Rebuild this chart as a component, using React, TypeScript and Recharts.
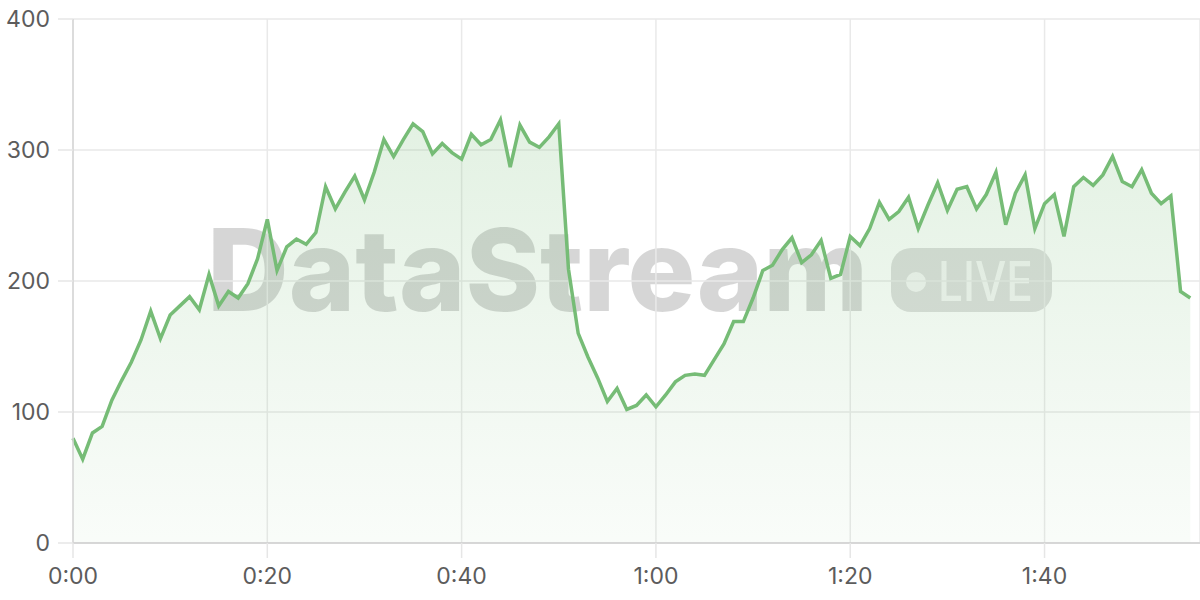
import { Area, AreaChart, CartesianGrid, XAxis, YAxis } from "recharts";

// one reading per second, 0:00 .. 1:55
const values = [
  80, 64, 84, 89, 109, 124, 138, 155, 177, 156,
  174, 181, 188, 178, 205, 181, 192, 187, 198, 217,
  247, 208, 226, 232, 228, 237, 272, 255, 268, 280,
  262, 283, 308, 295, 308, 320, 314, 297, 305, 298,
  293, 312, 304, 308, 323, 287, 319, 306, 302, 310,
  320, 209, 160, 142, 126, 108, 118, 102, 105, 113,
  104, 113, 123, 128, 129, 128, 140, 152, 169, 169,
  187, 208, 212, 224, 233, 214, 220, 231, 202, 205,
  234, 227, 240, 260, 247, 253, 264, 240, 258, 275,
  254, 270, 272, 255, 266, 283, 243, 267, 281, 240,
  259, 266, 234, 272, 279, 273, 281, 295, 276, 272,
  285, 267, 259, 265, 192, 187
];
const seconds = values.map((_, i) => i);
const xTicks = [0, 20, 40, 60, 80, 100];
const yTicks = [0, 100, 200, 300, 400];

const data = seconds.map((t, i) => ({ t, rate: values[i] }));

const fmtTime = (s: number) => `${Math.floor(s / 60)}:${String(s % 60).padStart(2, "0")}`;

const tickStyle = { fontSize: 23, fill: "#5c5c5c", fontFamily: "Inter, sans-serif" };
const green = "#76bc76";

function Watermark() {
  return (
    <svg
      width={1200}
      height={600}
      style={{ position: "absolute", left: 0, top: 0 }}
    >
      <text
        x={207}
        y={311}
        textLength={661}
        lengthAdjust="spacingAndGlyphs"
        fontFamily="Inter, sans-serif"
        fontWeight={800}
        fontSize={114}
        fill="rgba(0,0,0,0.16)"
      >
        DataStream
      </text>
      <rect x={891} y={248} width={161} height={64} rx={20} fill="rgba(0,0,0,0.13)" />
      <circle cx={916} cy={282} r={10} fill="rgba(255,255,255,0.7)" />
      <text
        x={938}
        y={301}
        textLength={95}
        lengthAdjust="spacingAndGlyphs"
        fontFamily="Inter, sans-serif"
        fontWeight={500}
        fontSize={55}
        fill="rgba(255,255,255,0.7)"
      >
        LIVE
      </text>
    </svg>
  );
}

export default function App() {
  return (
    <div style={{ position: "absolute", left: 0, top: 0, width: 1200, height: 600, background: "#fff" }}>
      <Watermark />
      <div style={{ position: "absolute", left: 0, top: 0 }}>
        <AreaChart width={1200} height={600} data={data} margin={{ top: 19, right: 0, bottom: 12, left: 0 }}>
          <defs>
            <linearGradient id="rateFill" x1="0" y1="0" x2="0" y2="1">
              <stop offset="0%" stopColor={green} stopOpacity={0.34} />
              <stop offset="100%" stopColor={green} stopOpacity={0.07} />
            </linearGradient>
          </defs>
          <CartesianGrid stroke="#e9e9e9" strokeWidth={1.5} />
          <XAxis
            dataKey="t"
            type="number"
            domain={[0, 116]}
            ticks={xTicks}
            tickFormatter={fmtTime}
            tick={tickStyle}
            tickSize={15}
            tickMargin={10}
            tickLine={{ stroke: "#e6e6e6", strokeWidth: 1.5 }}
            axisLine={{ stroke: "#cfcfcf", strokeWidth: 1.5 }}
            height={45}
          />
          <YAxis
            domain={[0, 400]}
            ticks={yTicks}
            tick={tickStyle}
            tickSize={15}
            tickMargin={8}
            tickLine={{ stroke: "#e6e6e6", strokeWidth: 1.5 }}
            axisLine={{ stroke: "#d6d6d6", strokeWidth: 1.5 }}
            width={73}
          />
          <Area
            type="linear"
            dataKey="rate"
            stroke={green}
            strokeWidth={3.5}
            fill="url(#rateFill)"
            dot={false}
            activeDot={false}
            isAnimationActive={false}
          />
        </AreaChart>
      </div>
    </div>
  );
}
